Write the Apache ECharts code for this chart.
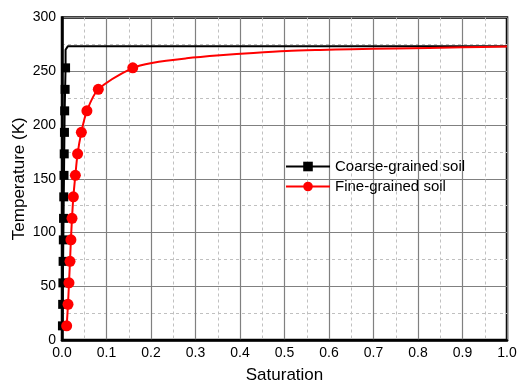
<!DOCTYPE html>
<html>
<head>
<meta charset="utf-8">
<script src="https://cdn.jsdelivr.net/npm/echarts@6/dist/echarts.min.js"></script>
<style>
  html, body { margin: 0; padding: 0; background: #fff; }
  #chart { width: 517px; height: 380px; }
</style>
</head>
<body>
<div id="chart"></div>
<script>
// coarse-grained soil: curve points and which of them carry a marker
const coarseSat = [0.001, 0.0015, 0.002, 0.0025, 0.003, 0.0035, 0.004, 0.0045, 0.005, 0.0055, 0.006, 0.007, 0.008, 0.008, 0.013, 1.0];
const coarseTemp = [13.15, 33.15, 53.15, 73.15, 93.15, 113.15, 133.15, 153.15, 173.15, 193.15, 213.15, 233.15, 253.15, 270, 273.15, 273.15];
const coarseMark = [1, 1, 1, 1, 1, 1, 1, 1, 1, 1, 1, 1, 1, 0, 0, 0];

// fine-grained soil
const fineSat = [0.0105, 0.0135, 0.0157, 0.018, 0.020, 0.0225, 0.0255, 0.030, 0.035, 0.0435, 0.056, 0.0816, 0.159, 0.205, 0.28, 0.355, 0.43, 0.505, 0.58, 0.65, 0.75, 0.9, 1.0];
const fineTemp = [13.15, 33.15, 53.15, 73.15, 93.15, 113.15, 133.15, 153.15, 173.15, 193.15, 213.15, 233.15, 253.15, 258, 262, 264.8, 267, 268.8, 269.8, 270.5, 271.2, 272.3, 273.1];
const fineMark = [1, 1, 1, 1, 1, 1, 1, 1, 1, 1, 1, 1, 1, 0, 0, 0, 0, 0, 0, 0, 0, 0, 0];

const build = (xs, ys, marks) =>
  xs.map((x, i) => (marks[i] ? [x, ys[i]] : { value: [x, ys[i]], symbol: "none" }));

const chart = echarts.init(document.getElementById("chart"));

const font = "Liberation Sans, Arial, sans-serif";

chart.setOption({
  animation: false,
  grid: {
    left: 62,
    right: 10,
    top: 17.5,
    bottom: 40,
    outerBoundsMode: "none",
    containLabel: false,
    show: true,
    borderColor: "#000",
    borderWidth: 2.5,
  },
  legend: {
    left: 280,
    top: 154,
    orient: "vertical",
    itemWidth: 44,
    itemHeight: 12,
    itemGap: 5,
    textStyle: { fontSize: 15, color: "#000", fontFamily: font },
    data: ["Coarse-grained soil", "Fine-grained soil"],
  },
  xAxis: {
    type: "value",
    min: 0,
    max: 1,
    interval: 0.1,
    name: "Saturation",
    nameLocation: "middle",
    nameGap: 27,
    nameMoveOverlap: false,
    nameTextStyle: { fontSize: 17, color: "#000", fontFamily: font },
    axisLine: { lineStyle: { color: "#000", width: 2.5 } },
    axisTick: { show: false },
    axisLabel: {
      fontSize: 14,
      color: "#000",
      fontFamily: font,
      margin: 6,
      formatter: (v) => v.toFixed(1),
    },
    splitLine: { lineStyle: { color: "#808080", width: 1.2 } },
    minorTick: { show: false, splitNumber: 2 },
    minorSplitLine: { show: true, lineStyle: { color: "#c0c0c0", type: [3, 3], width: 1 } },
  },
  yAxis: {
    type: "value",
    min: 0,
    max: 300,
    interval: 50,
    name: "Temperature (K)",
    nameLocation: "middle",
    nameGap: 34,
    nameMoveOverlap: false,
    nameTextStyle: { fontSize: 17, color: "#000", fontFamily: font },
    axisLine: { show: true, lineStyle: { color: "#000", width: 2.5 } },
    axisTick: { show: false },
    axisLabel: { fontSize: 14, color: "#000", fontFamily: font, margin: 6 },
    splitLine: { lineStyle: { color: "#808080", width: 1.2 } },
    minorTick: { show: false, splitNumber: 2 },
    minorSplitLine: { show: true, lineStyle: { color: "#c0c0c0", type: [3, 3], width: 1 } },
  },
  series: [
    {
      name: "Coarse-grained soil",
      type: "line",
      data: build(coarseSat, coarseTemp, coarseMark),
      symbol: "rect",
      symbolSize: 9,
      color: "#000",
      lineStyle: { color: "#000", width: 2 },
      itemStyle: { color: "#000" },
      z: 3,
    },
    {
      name: "Fine-grained soil",
      type: "line",
      data: build(fineSat, fineTemp, fineMark),
      smooth: 0.3,
      symbol: "circle",
      symbolSize: 11,
      color: "#ff0000",
      lineStyle: { color: "#ff0000", width: 2 },
      itemStyle: { color: "#ff0000" },
      z: 4,
    },
  ],
});
</script>
</body>
</html>
